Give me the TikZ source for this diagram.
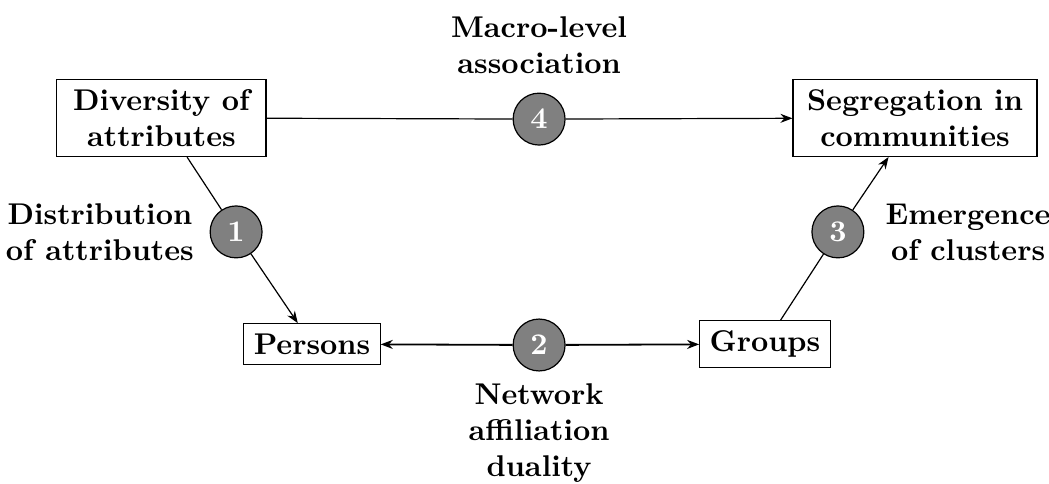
\documentclass[tikz,border=0pt]{standalone}
\usetikzlibrary{arrows.meta}
\begin{document}
\begin{tikzpicture}[x=1pt,y=-1pt,
  font=\bfseries,
  box/.style={draw, thin, align=center, inner sep=3.33pt},
  num/.style={circle, draw, thin, fill=gray, text=white, minimum size=17.3pt, inner sep=0pt},
  lbl/.style={align=center, inner sep=0pt},
  arr/.style={-{Stealth[length=4pt,width=3pt]}, thin}]
\useasboundingbox (0,0) rectangle (349.67,161);
\node[box, minimum width=69.7pt, minimum height=25.3pt] (div) at (53.8,39.3) {Diversity of\\attributes};
\node[box, minimum width=81.3pt, minimum height=25.3pt] (seg) at (305,39.3) {Segregation in\\communities};
\node[box] (per) at (104,114.7) {Persons};
\node[box] (grp) at (255,114.7) {Groups};
\node[num] (c4) at (179.7,39.7) {4};
\node[num] (c1) at (78.7,77.3) {1};
\node[num] (c2) at (179.7,115) {2};
\node[num] (c3) at (279.3,77.3) {3};
\node[lbl] (l4) at (179.7,15) {Macro-level\\association};
\node[lbl] (l1) at (33.3,77.3) {Distribution\\of attributes};
\node[lbl] (l3) at (322.7,77.3) {Emergence\\of clusters};
\node[lbl] (l2) at (179.7,144.2) {Network\\affiliation\\duality};
\draw[thin] (div) -- (c4);
\draw[arr] (c4) -- (seg);
\draw[thin] (div) -- (c1);
\draw[arr] (c1) -- (per);
\draw[thin] (grp) -- (c3);
\draw[arr] (c3) -- (seg);
\draw[arr, semithick] (c2) -- (per);
\draw[arr, semithick] (c2) -- (grp);
\end{tikzpicture}
\end{document}
